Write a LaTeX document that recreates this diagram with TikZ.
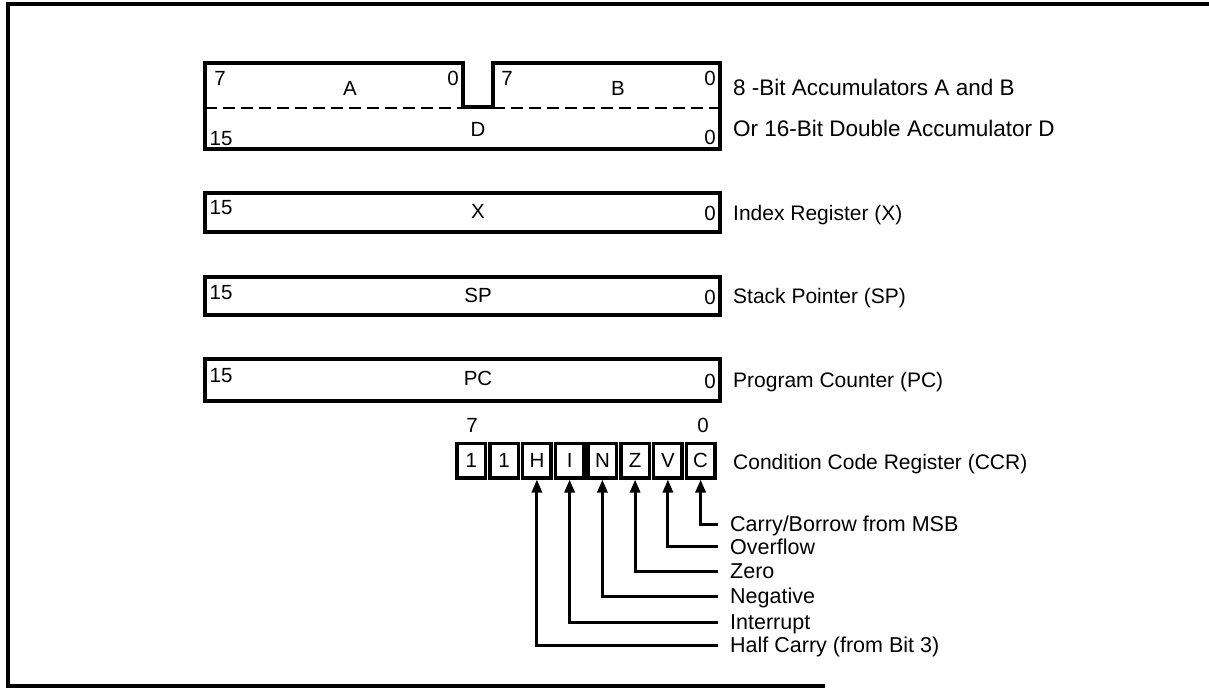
\documentclass[tikz,border=0pt]{standalone}
\usepackage{fontspec}
\setmainfont{Liberation Sans}
\usetikzlibrary{arrows.meta}
\begin{document}
\begin{tikzpicture}[x=1pt,y=-1pt,
  txt/.style={inner sep=0pt,text height=14.5pt,text depth=0pt,font=\fontsize{20.5}{24}\selectfont},
  lbl/.style={txt,anchor=west,font=\fontsize{21}{24}\selectfont},
  biglbl/.style={txt,anchor=west,text height=16pt,font=\fontsize{22.5}{26}\selectfont},
  flaglbl/.style={txt,anchor=west,text height=15pt,font=\fontsize{21.5}{25}\selectfont},
  regbox/.style={line width=3.5pt,line join=miter},
  cell/.style={draw,line width=3.5pt,minimum width=28.5pt,minimum height=34.5pt,inner sep=0pt,
    text height=14.5pt,text depth=0pt,font=\fontsize{20.5}{24}\selectfont},
  arr/.style={line width=3pt,-{Triangle[length=13pt,width=10pt]}},
  frame/.style={line width=3.5pt}]
\useasboundingbox (0,0) rectangle (1209,688);
% frame
\draw[frame] (1209,4) -- (8,4) -- (8,686) -- (825,686);

% A and B / D
\draw[regbox] (205,149) -- (205,63) -- (463,63) -- (463,107) -- (493,107) -- (493,63) -- (720,63) -- (720,149) -- cycle;
\draw[line width=2.2pt,dash pattern=on 12pt off 6pt] (205,108) -- (463,108);
\draw[line width=2.2pt,dash pattern=on 12pt off 6pt] (493,108) -- (720,108);
\node[txt] (a7) at (220,78) {7};
\node[txt] (aA) at (350,88) {A};
\node[txt] (a0) at (453,78) {0};
\node[txt] (b7) at (507,78) {7};
\node[txt] (bB) at (618,88) {B};
\node[txt] (b0) at (710,78) {0};
\node[txt] (d15) at (221,138) {15};
\node[txt] (dD) at (478,129) {D};
\node[txt] (d0) at (710,137) {0};
\node[biglbl] (labAB) at (733,87) {8 -Bit Accumulators A and B};
\node[biglbl] (labD) at (733,128) {Or 16-Bit Double Accumulator D};

% X
\draw[regbox] (205,193) rectangle (720,232);
\node[txt] (x15) at (221,207) {15};
\node[txt] (xX) at (478,211) {X};
\node[txt] (x0) at (710,213) {0};
\node[lbl] (labX) at (733,213) {Index Register (X)};

% SP
\draw[regbox] (205,277) rectangle (720,315);
\node[txt] (s15) at (221,292) {15};
\node[txt] (sS) at (478,295) {SP};
\node[txt] (s0) at (710,297) {0};
\node[lbl] (labS) at (733,296) {Stack Pointer (SP)};

% PC
\draw[regbox] (205,359) rectangle (720,401);
\node[txt] (p15) at (221,375) {15};
\node[txt] (pP) at (478,378) {PC};
\node[txt] (p0) at (710,381) {0};
\node[lbl] (labP) at (733,380) {Program Counter (PC)};

% CCR
\node[txt] (c7) at (472,425) {7};
\node[txt] (c0) at (703,425) {0};
\node[cell] (b1a) at (471.4,460.5) {1};
\node[cell] (b1b) at (504.1,460.5) {1};
\node[cell] (cH) at (536.9,460.5) {H};
\node[cell] (cI) at (569.6,460.5) {I};
\node[cell] (cN) at (602.4,460.5) {N};
\node[cell] (cZ) at (635.1,460.5) {Z};
\node[cell] (cV) at (667.9,460.5) {V};
\node[cell] (cC) at (700.6,460.5) {C};
\node[lbl] (labCCR) at (733,462) {Condition Code Register (CCR)};

\node[flaglbl] (fC) at (730,524) {Carry/Borrow from MSB};
\node[flaglbl] (fV) at (730,546.5) {Overflow};
\node[flaglbl] (fZ) at (730,571) {Zero};
\node[flaglbl] (fN) at (730,596) {Negative};
\node[flaglbl] (fI) at (730,622) {Interrupt};
\node[flaglbl] (fH) at (730,645) {Half Carry (from Bit 3)};

\draw[arr] ([xshift=-12pt]fC.west) -| (cC.south);
\draw[arr] ([xshift=-12pt]fV.west) -| (cV.south);
\draw[arr] ([xshift=-12pt]fZ.west) -| (cZ.south);
\draw[arr] ([xshift=-12pt]fN.west) -| (cN.south);
\draw[arr] ([xshift=-12pt]fI.west) -| (cI.south);
\draw[arr] ([xshift=-12pt]fH.west) -| (cH.south);
\end{tikzpicture}
\end{document}
